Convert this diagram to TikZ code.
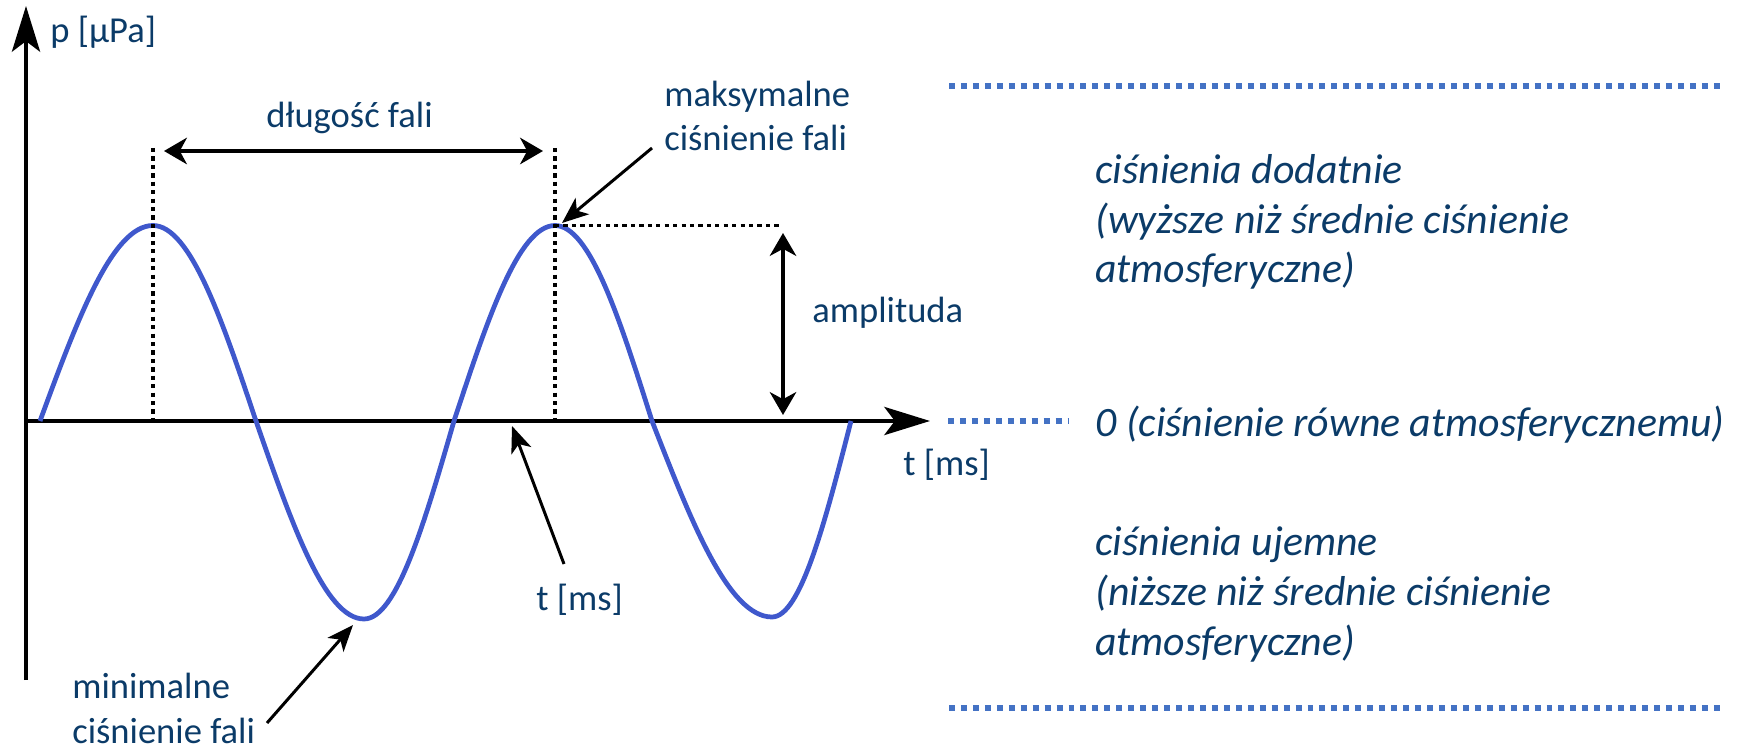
\documentclass[tikz,border=0pt]{standalone}
\usepackage{fontspec}
\setmainfont{Carlito}
\definecolor{wavblue}{HTML}{3F58CC}
\definecolor{labblue}{HTML}{0B3B68}
\definecolor{lvlblue}{HTML}{4472C4}
\usetikzlibrary{arrows.meta,positioning}

\tikzset{
  axisline/.style={line width=2.3pt, -{Stealth[length=26pt,width=16pt,inset=6pt]}},
  wave/.style={wavblue, line width=2.7pt},
  guide/.style={line width=2.2pt, dash pattern=on 2.4pt off 2.4pt},
  span/.style={line width=2.3pt, {Stealth[length=13pt,width=15pt,inset=4pt]}-{Stealth[length=13pt,width=15pt,inset=4pt]}},
  pointer/.style={line width=1.7pt, -{Stealth[length=15pt,width=12pt,inset=4pt]}},
  lvlline/.style={lvlblue, line width=3.2pt, dash pattern=on 3.4pt off 3.4pt},
  lab/.style={text=labblue, font=\fontsize{20.8}{25.3}\selectfont, inner sep=0pt, align=left},
  zone/.style={text=labblue, font=\fontsize{23.8}{28.45}\selectfont\itshape, inner sep=0pt, align=left}
}

\begin{document}
\begin{tikzpicture}
\useasboundingbox (-0.52,-6.56) rectangle (34.44,8.42);

% Axes
\coordinate (O) at (0,0);
\coordinate (ytop) at (0,8.3);
\coordinate (ybot) at (0,-5.18);
\coordinate (xend) at (18.08,0);
\draw[axisline] (ybot) -- (ytop);
\draw[axisline] (O) -- (xend);
\node[lab, anchor=base west] (plab) at (0.48,7.56) {p [µPa]};
\node[lab, anchor=base west] (tlab) at (17.54,-1.08) {t [ms]};

% Wave
\coordinate (w0) at (0.28,0);
\coordinate (max1) at (2.54,3.91);
\coordinate (z1) at (4.6,0);
\coordinate (min1) at (6.76,-3.96);
\coordinate (z2) at (8.56,0);
\coordinate (max2) at (10.58,3.91);
\coordinate (z3) at (12.52,0);
\coordinate (min2) at (14.92,-3.92);
\coordinate (wend) at (16.5,0);
\draw[wave] (w0) sin (max1) cos (z1) sin (min1) cos (z2) sin (max2) cos (z3) sin (min2) cos (wend);

% Wavelength
\coordinate (g1) at (2.54,5.46);
\coordinate (g2) at (10.58,5.46);
\draw[guide] (g1) -- (g1 |- O);
\draw[guide] (g2) -- (g2 |- O);
\coordinate (la) at (2.76,5.4);
\coordinate (lb) at (10.34,5.4);
\draw[span] (la) -- (lb);
\node[lab, anchor=base] (lenlab) at (6.47,5.86) {długość fali};

% Amplitude
\coordinate (hend) at (15.12,3.91);
\draw[guide] (max2) -- (hend);
\coordinate (a1) at (15.14,3.76);
\coordinate (a0) at (15.14,0.12);
\draw[span] (a0) -- (a1);
\node[lab, anchor=base west] (amplab) at (15.72,1.96) {amplituda};

% Pointers (base = last line)
\node[lab, anchor=base west] (maxlab) at (12.76,5.4) {maksymalne\\ciśnienie fali};
\coordinate (maxtail) at (12.52,5.46);
\coordinate (maxtip) at (10.72,3.96);
\draw[pointer] (maxtail) -- (maxtip);

\node[lab, anchor=base west] (tlab2) at (10.2,-3.78) {t [ms]};
\coordinate (ttail) at (10.76,-2.86);
\coordinate (ttip) at (9.72,-0.1);
\draw[pointer] (ttail) -- (ttip);

\node[lab, anchor=base west] (minlab) at (0.92,-6.44) {minimalne\\ciśnienie fali};
\coordinate (mintail) at (4.82,-6.04);
\coordinate (mintip) at (6.54,-4.08);
\draw[pointer] (mintail) -- (mintip);

% Pressure levels
\coordinate (top1) at (18.46,6.7);
\coordinate (top2) at (33.92,6.7);
\coordinate (mid1) at (18.44,0);
\coordinate (mid2) at (20.84,0);
\coordinate (bot1) at (18.46,-5.74);
\coordinate (bot2) at (33.92,-5.74);
\draw[lvlline] (top1) -- (top2);
\draw[lvlline] (mid1) -- (mid2);
\draw[lvlline] (bot1) -- (bot2);

\node[zone, anchor=base west] (poszone) at (21.38,2.76) {ciśnienia dodatnie\\(wyższe niż średnie ciśnienie\\atmosferyczne)};
\node[zone, anchor=base west] (zerozone) at (21.38,-0.3) {0 (ciśnienie równe atmosferycznemu)};
\node[zone, anchor=base west] (negzone) at (21.38,-4.68) {ciśnienia ujemne\\(niższe niż średnie ciśnienie\\atmosferyczne)};
\end{tikzpicture}
\end{document}
